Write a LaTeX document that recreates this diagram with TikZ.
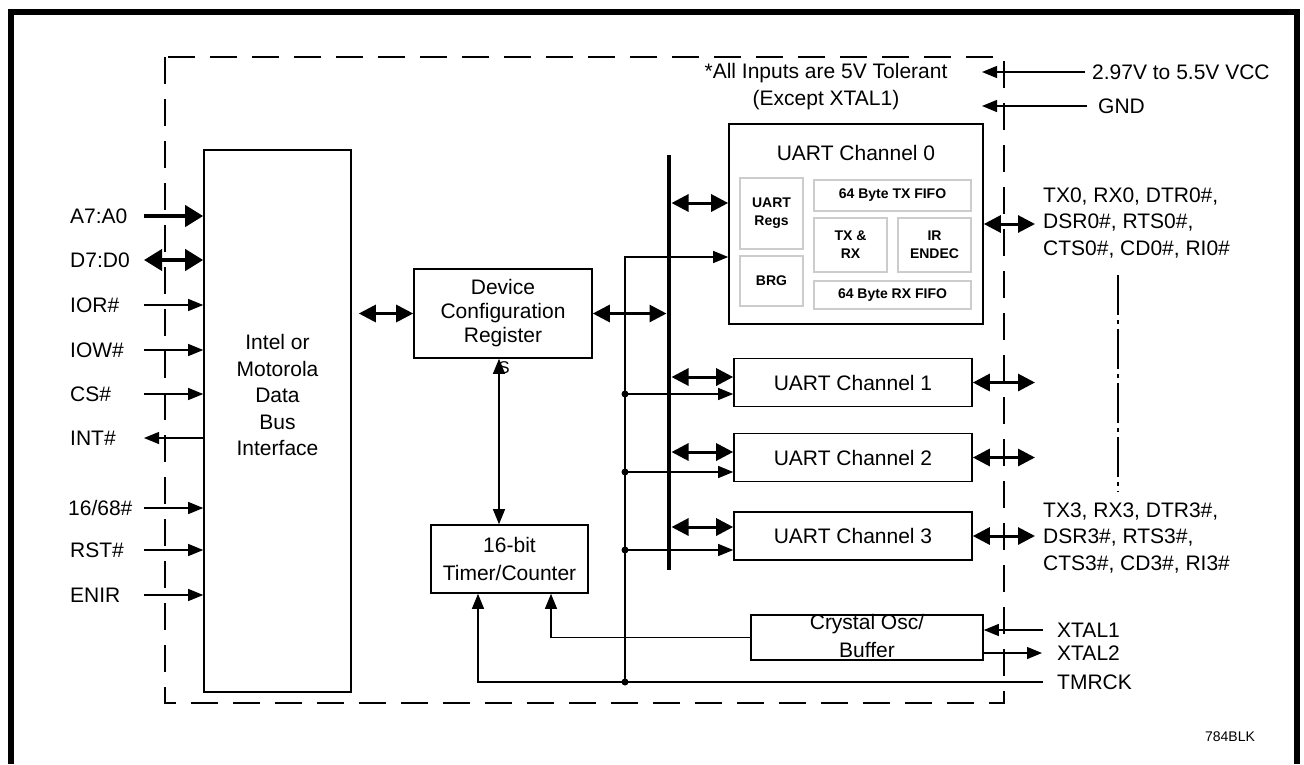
\documentclass[tikz,border=0pt]{standalone}
\usepackage{fontspec}
\setmainfont{Liberation Sans}
\usetikzlibrary{arrows.meta}

\newcommand\lbltxt{\fontsize{21}{26.5}\selectfont}
\newcommand\subtxt{\fontsize{14}{18}\selectfont\bfseries}

\tikzset{
  blk/.style={draw, line width=1.6pt, inner sep=0pt, align=center, font=\lbltxt},
  sub/.style={draw=black!20, line width=1.4pt, inner sep=0pt, align=center, font=\subtxt},
  txt/.style={inner sep=0pt, align=center, font=\lbltxt},
  sig/.style={inner sep=0pt, anchor=west, align=left, font=\lbltxt},
  sarr/.style={line width=1.2pt, -{Triangle[length=15pt,width=12pt]}},
  darr/.style={line width=1.2pt, {Triangle[length=15pt,width=12pt]}-{Triangle[length=15pt,width=12pt]}},
  barr/.style={line width=3pt, {Triangle[length=17pt,width=17pt]}-{Triangle[length=17pt,width=17pt]}},
  warr/.style={line width=4pt, -{Triangle[length=18pt,width=21pt]}},
  wdarr/.style={line width=4pt, {Triangle[length=18pt,width=21pt]}-{Triangle[length=18pt,width=21pt]}},
  jdot/.style={circle, fill, inner sep=0pt, minimum size=7pt},
}

\begin{document}
\begin{tikzpicture}[x=1pt, y=-1pt]
\useasboundingbox (0,0) rectangle (1304,764);

% frame and chip outline
\draw[line width=6pt] (11,764) -- (11,12) -- (1297,12) -- (1297,764);
\draw[line width=1.3pt, dash pattern=on 27pt off 15pt] (165,57) rectangle (1004,703);

% blocks
\node[blk, minimum width=147pt, minimum height=542pt] (intel) at (277.5,421) {};
\node[txt] (intelt) at (277.5,395) {Intel or\\Motorola\\Data\\Bus\\Interface};
\node[blk, minimum width=178pt, minimum height=89pt, font=\fontsize{21}{24}\selectfont] (dcr) at (503,313.5) {Device\\Configuration\\Register};
\node[inner sep=0pt, font=\fontsize{17}{17}\selectfont] (s) at (504,368) {S};
\node[blk, minimum width=157pt, minimum height=68pt, font=\fontsize{21}{28}\selectfont] (timer) at (509.5,559) {16-bit\\Timer/Counter};
\node[blk, minimum width=232pt, minimum height=45pt] (xtal) at (867,637.5) {};
\node[txt, font=\fontsize{21}{28}\selectfont] (xtalt) at (867,636) {Crystal Osc/\\Buffer};

\node[blk, minimum width=254pt, minimum height=200pt] (uart0) at (856,224) {};
\node[txt] (u0t) at (856,153) {UART Channel 0};
\node[sub, minimum width=63pt, minimum height=71pt] (regs) at (771.5,213.5) {UART\\Regs};
\node[sub, minimum width=63pt, minimum height=50pt] (brg) at (771.5,281) {BRG};
\node[sub, minimum width=157pt, minimum height=31pt] (txfifo) at (892.5,195.5) {64 Byte TX FIFO};
\node[sub, minimum width=73pt, minimum height=54pt] (txrx) at (850.5,245) {TX \&\\RX};
\node[sub, minimum width=73pt, minimum height=54pt] (endec) at (934.5,245) {IR\\ENDEC};
\node[sub, minimum width=157pt, minimum height=28pt] (rxfifo) at (892.5,295) {64 Byte RX FIFO};
\foreach \i/\yy in {1/382.5, 2/457.5, 3/536}
  \node[blk, minimum width=238pt, minimum height=48pt] (uart\i) at (853,\yy) {UART Channel \i};

% host side signals
\coordinate (lx) at (144,0);
\node[sig] (a7) at (70,216) {A7:A0};
\node[sig] (d7) at (70,260) {D7:D0};
\node[sig] (mode) at (68,508) {16/68\#};
\foreach \nm/\lbl/\yy in {ior/IOR\#/305, iow/IOW\#/350, cs/CS\#/394, int/INT\#/438, rst/RST\#/550, enir/ENIR/595}
  \node[sig] (\nm) at (70,\yy) {\lbl};
\draw[warr] (lx |- a7) -- (intel.west |- a7);
\draw[wdarr] (lx |- d7) -- (intel.west |- d7);
\foreach \nm in {ior, iow, cs, mode, rst, enir}
  \draw[sarr] (lx |- \nm) -- (intel.west |- \nm);
\draw[sarr] (intel.west |- int) -- (lx |- int);

% internal bus
\coordinate (bustop) at (669,155);
\coordinate (busbot) at (669,570);
\draw[line width=4.5pt] (bustop) -- (busbot);
\draw[barr, shorten <=7pt] (intel.east |- dcr.west) -- (dcr.west);
\draw[barr, shorten >=2.5pt] (dcr.east) -- (dcr.east -| bustop);
\coordinate (uin0) at ([yshift=21pt]uart0.west);
\draw[barr, shorten <=2.5pt] (uin0 -| bustop) -- (uin0);

% clock lines
\node[sig] (x1) at (1057,630) {XTAL1};
\node[sig] (x2) at (1057,653) {XTAL2};
\node[sig] (tmrck) at (1057,682) {TMRCK};
\coordinate (clkx) at (625,257);
\coordinate (clkbot) at (clkx |- tmrck.west);
\draw[sarr] (clkbot) -- (clkx) -- (clkx -| uart0.west);
\node[jdot] at (clkbot) {};
\foreach \i/\up/\dn in {1/5.5/-11.5, 2/5.5/-14.5, 3/9/-14} {
  \coordinate (uin\i) at ([yshift=\up pt]uart\i.west);
  \coordinate (ckin\i) at ([yshift=\dn pt]uart\i.west);
  \draw[barr, shorten <=2.5pt] (uin\i -| bustop) -- (uin\i);
  \draw[sarr] (ckin\i -| clkx) -- (ckin\i);
  \node[jdot] at (ckin\i -| clkx) {};
}

\coordinate (dt) at ([xshift=-4pt]dcr.south);
\draw[darr] (dt) -- (dt |- timer.north);
\coordinate (tin1) at ([xshift=-31.5pt]timer.south);
\coordinate (tin2) at ([xshift=41.5pt]timer.south);
\draw[sarr] (xtal.west) -| (tin2);
\draw[sarr] ([xshift=-14pt]tmrck.west) -| (tin1);
\draw[sarr] ([xshift=-14pt]x1.west) -- (x1.west -| xtal.east);
\draw[sarr] (xtal.east |- x2.west) -- ([xshift=-15pt]x2.west);

% serial side
\coordinate (rx) at (1035,0);
\foreach \i in {0,1,2,3}
  \draw[barr] (uart\i.east) -- (uart\i.east -| rx);
\node[sig] (ch0io) at (1043,223) {TX0, RX0, DTR0\#,\\DSR0\#, RTS0\#,\\CTS0\#, CD0\#, RI0\#};
\node[sig] (ch3io) at (1043,538) {TX3, RX3, DTR3\#,\\DSR3\#, RTS3\#,\\CTS3\#, CD3\#, RI3\#};
\draw[line width=1.3pt, dash pattern=on 40pt off 5pt on 4pt off 5pt] (1118,275) -- (1118,492);

% supply
\node[txt] (note) at (826,86.5) {*All Inputs are 5V Tolerant\\(Except XTAL1)};
\coordinate (pwrx) at (982,0);
\node[sig] (vcc) at (1092,72) {2.97V to 5.5V VCC};
\node[sig] (gnd) at (1098,106) {GND};
\draw[sarr] ([xshift=-7pt]vcc.west) -- (pwrx |- vcc.west);
\draw[sarr] ([xshift=-11pt]gnd.west) -- (pwrx |- gnd.west);

\node[inner sep=0pt, font=\fontsize{14}{14}\selectfont] (ref) at (1230,737) {784BLK};
\end{tikzpicture}
\end{document}
